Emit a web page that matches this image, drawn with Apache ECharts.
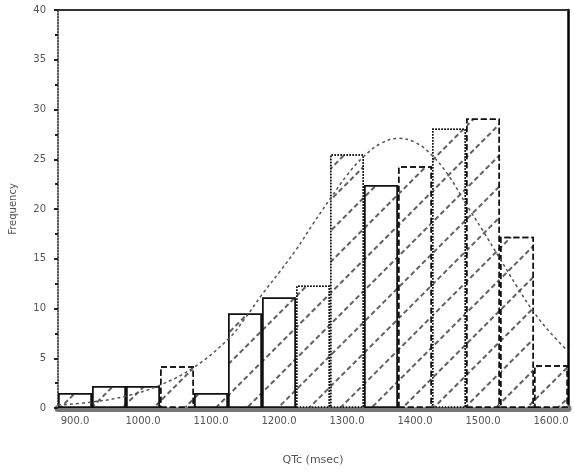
<!DOCTYPE html>
<html>
<head>
<meta charset="utf-8">
<script src="https://cdn.jsdelivr.net/npm/echarts@6/dist/echarts.min.js"></script>
<style>
  html, body { margin: 0; padding: 0; background: #fff; }
  #chart { width: 574px; height: 475px; }
</style>
</head>
<body>
<div id="chart"></div>
<script>
// Histogram bins (bin midpoints) and their frequencies
const binLabels = ['900.0', '950.0', '1000.0', '1050.0', '1100.0', '1150.0', '1200.0', '1250.0',
                   '1300.0', '1350.0', '1400.0', '1450.0', '1500.0', '1550.0', '1600.0'];
const frequencies = [1.5, 2.2, 2.2, 4.2, 1.5, 9.5, 11.1, 12.3, 25.5, 22.4, 24.3, 28.1, 29.1, 17.2, 4.3];

// Fitted normal curve: position in bin units (0 = left edge of first bin) and height
const curveX = [0, 1, 2, 3, 4, 5, 5.5, 6, 6.5, 7, 7.5, 8, 8.5, 9, 9.5, 10,
                10.5, 11, 11.5, 12, 12.5, 13, 13.5, 14, 14.5, 15];
const curveY = [0.3, 0.6, 1.2, 2.3, 4.1, 6.9, 9.0, 11.4, 13.6, 15.9, 18.5, 21.0, 23.4, 25.3, 26.6, 27.1,
                26.7, 25.4, 23.3, 20.5, 17.8, 15.0, 12.2, 9.6, 7.5, 5.7];

// Y-axis ticks
const yMin = 0, yMax = 40, yStep = 5;

// Outline style of each bar
const barOutline = ['solid', 'solid', 'solid', 'dashed', 'solid', 'solid', 'solid', 'dotted',
                    'dotted', 'solid', 'dashed', 'dotted', 'dashed', 'dashed', 'dashed'];

const chart = echarts.init(document.getElementById('chart'));

const barData = frequencies.map((v, i) => ({
  value: v,
  itemStyle: { borderType: barOutline[i] }
}));

const curveData = curveX.map((x, i) => [x, curveY[i]]);

const axisText = { color: '#555', fontFamily: 'DejaVu Sans', fontSize: 10 };

chart.setOption({
  animation: false,
  backgroundColor: '#fff',
  grid: { left: 54, right: 6, top: 10, bottom: 67 },
  xAxis: [
    {
      type: 'category',
      data: binLabels,
      position: 'bottom',
      name: 'QTc (msec)',
      nameLocation: 'middle',
      nameGap: 47,
      nameTextStyle: { color: '#555', fontFamily: 'DejaVu Sans', fontSize: 11 },
      axisLine: { lineStyle: { color: '#777', width: 7 } },
      axisTick: { show: false },
      axisLabel: Object.assign({ interval: 1, margin: 8 }, axisText),
      splitLine: { show: false }
    },
    {
      type: 'value',
      min: 0,
      max: binLabels.length,
      position: 'top',
      axisLine: { show: true, onZero: false, lineStyle: { color: '#333', width: 2 } },
      axisTick: { show: false },
      axisLabel: { show: false },
      splitLine: { show: false }
    }
  ],
  yAxis: [
    {
      type: 'value',
      min: yMin,
      max: yMax,
      interval: yStep,
      name: 'Frequency',
      nameLocation: 'middle',
      nameGap: 40,
      nameTextStyle: { color: '#555', fontFamily: 'DejaVu Sans', fontSize: 10 },
      axisLine: { show: true, lineStyle: { color: '#222', width: 1.5, type: 'dotted' } },
      axisTick: { show: true, length: 4, lineStyle: { color: '#222', width: 2 } },
      minorTick: { show: true, splitNumber: 2, length: 3, lineStyle: { color: '#222', width: 2 } },
      axisLabel: Object.assign({ margin: 12 }, axisText),
      splitLine: { show: false }
    },
    {
      type: 'value',
      min: yMin,
      max: yMax,
      position: 'right',
      axisLine: { show: true, lineStyle: { color: '#000', width: 2.5 } },
      axisTick: { show: false },
      axisLabel: { show: false },
      splitLine: { show: false }
    }
  ],
  series: [
    {
      type: 'bar',
      xAxisIndex: 0,
      yAxisIndex: 0,
      data: barData,
      barCategoryGap: '0%',
      itemStyle: {
        color: '#fff',
        borderColor: '#111',
        borderWidth: 1.5,
        decal: {
          symbol: 'rect',
          symbolSize: 1,
          color: 'rgba(30,30,30,0.7)',
          dashArrayX: [5, 3],
          dashArrayY: [2, 20],
          rotation: -Math.PI / 4
        }
      },
      z: 2
    },
    {
      type: 'line',
      xAxisIndex: 1,
      yAxisIndex: 0,
      data: curveData,
      smooth: 0.4,
      showSymbol: false,
      lineStyle: { color: '#555', width: 1.5, type: [3, 3] },
      z: 3
    }
  ]
});
</script>
</body>
</html>
